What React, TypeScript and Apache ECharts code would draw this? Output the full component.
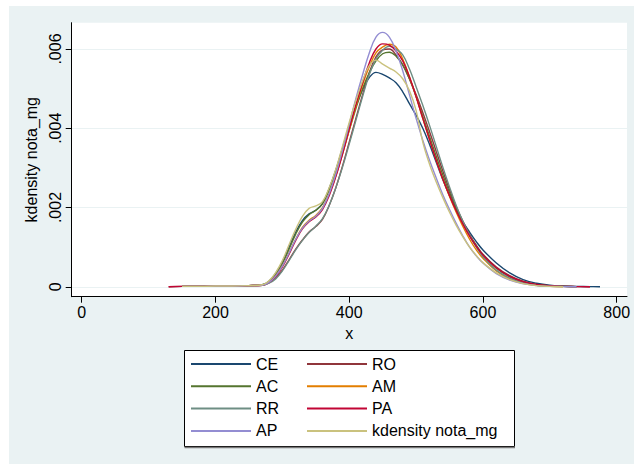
import React, { useEffect, useRef } from "react";
import * as echarts from "echarts";

// x grid (score) shared by all curves
const xs = [130, 150, 175, 200, 225, 250, 270, 280, 290, 300, 310, 320, 330, 340, 350, 360, 370, 380, 390, 400, 410, 420, 430, 440, 450, 460, 470, 480, 490, 500, 510, 520, 530, 540, 550, 560, 570, 580, 590, 600, 620, 640, 660, 680, 700, 720, 740, 760, 775];

// density values in thousandths (x 1e-3)
const CE = [null, 0.01, 0.01, 0.02, 0.02, 0.03, 0.05, 0.14, 0.34, 0.62, 1.0, 1.38, 1.67, 1.84, 1.93, 2.1, 2.48, 2.95, 3.5, 4.05, 4.55, 4.98, 5.28, 5.41, 5.36, 5.27, 5.15, 4.92, 4.62, 4.33, 4.0, 3.6, 3.15, 2.7, 2.3, 1.95, 1.64, 1.38, 1.14, 0.93, 0.6, 0.35, 0.18, 0.09, 0.04, 0.02, 0.01, 0.005, 0.0];
const RO = [0.0, 0.01, 0.01, 0.02, 0.02, 0.03, 0.04, 0.1, 0.22, 0.42, 0.68, 0.95, 1.18, 1.38, 1.52, 1.7, 2.05, 2.5, 3.05, 3.65, 4.25, 4.85, 5.4, 5.8, 5.98, 6.0, 5.85, 5.6, 5.25, 4.85, 4.4, 3.92, 3.42, 2.92, 2.45, 2.02, 1.65, 1.32, 1.05, 0.82, 0.5, 0.28, 0.14, 0.06, 0.03, 0.01, 0.005, 0.0, null];
const AC = [null, 0.01, 0.01, 0.02, 0.02, 0.03, 0.05, 0.13, 0.31, 0.58, 0.95, 1.33, 1.63, 1.82, 1.93, 2.1, 2.45, 2.9, 3.4, 3.95, 4.5, 5.0, 5.4, 5.7, 5.88, 5.92, 5.82, 5.6, 5.25, 4.8, 4.3, 3.8, 3.3, 2.82, 2.38, 1.98, 1.62, 1.3, 1.03, 0.8, 0.47, 0.25, 0.12, 0.05, 0.02, 0.01, 0.0, null, null];
const AM = [null, 0.01, 0.01, 0.02, 0.02, 0.03, 0.04, 0.11, 0.27, 0.52, 0.85, 1.2, 1.5, 1.68, 1.8, 2.0, 2.35, 2.8, 3.35, 3.95, 4.55, 5.1, 5.55, 5.9, 6.05, 6.12, 6.05, 5.75, 5.3, 4.8, 4.25, 3.72, 3.2, 2.72, 2.28, 1.88, 1.52, 1.2, 0.93, 0.72, 0.4, 0.2, 0.09, 0.04, 0.015, 0.0, null, null, null];
const RR = [null, 0.01, 0.01, 0.02, 0.02, 0.03, 0.04, 0.09, 0.2, 0.4, 0.66, 0.93, 1.17, 1.37, 1.53, 1.72, 2.05, 2.5, 3.02, 3.6, 4.2, 4.8, 5.35, 5.75, 5.97, 6.07, 6.0, 5.85, 5.5, 5.05, 4.58, 4.08, 3.55, 3.02, 2.52, 2.05, 1.65, 1.3, 1.0, 0.76, 0.42, 0.22, 0.1, 0.04, 0.02, 0.01, 0.0, null, null];
const PA = [0.0, 0.01, 0.01, 0.02, 0.02, 0.03, 0.04, 0.11, 0.26, 0.5, 0.82, 1.17, 1.46, 1.64, 1.76, 1.95, 2.3, 2.78, 3.35, 3.98, 4.6, 5.15, 5.65, 6.0, 6.13, 6.1, 5.95, 5.7, 5.3, 4.8, 4.25, 3.72, 3.2, 2.72, 2.3, 1.92, 1.58, 1.28, 1.02, 0.8, 0.48, 0.26, 0.13, 0.06, 0.03, 0.01, 0.005, 0.0, null];
const AP = [null, 0.01, 0.01, 0.02, 0.02, 0.03, 0.04, 0.11, 0.27, 0.52, 0.85, 1.2, 1.48, 1.66, 1.78, 1.98, 2.35, 2.85, 3.45, 4.1, 4.75, 5.35, 5.9, 6.3, 6.42, 6.3, 5.95, 5.45, 4.85, 4.25, 3.7, 3.2, 2.75, 2.32, 1.95, 1.6, 1.28, 1.0, 0.78, 0.6, 0.33, 0.17, 0.08, 0.03, 0.01, 0.005, 0.0, null, null];
const MG = [null, 0.01, 0.01, 0.02, 0.02, 0.03, 0.05, 0.15, 0.36, 0.66, 1.06, 1.45, 1.78, 1.98, 2.04, 2.15, 2.5, 2.97, 3.55, 4.15, 4.7, 5.2, 5.58, 5.72, 5.62, 5.52, 5.42, 5.25, 4.95, 4.45, 3.65, 3.1, 2.65, 2.25, 1.88, 1.55, 1.26, 1.0, 0.79, 0.61, 0.35, 0.18, 0.08, 0.03, 0.01, 0.0, null, null, null];

const seriesNames = ["CE", "RO", "AC", "AM", "RR", "PA", "AP", "kdensity nota_mg"];
const seriesValues = [CE, RO, AC, AM, RR, PA, AP, MG];
const seriesColors = ["#1a476f", "#90353b", "#55752f", "#e37e00", "#6e8e84", "#c10534", "#938dd2", "#cac27e"];

const xTicks = [0, 200, 400, 600, 800];
const yTicks = [0, 2, 4, 6];

const FONT = "Liberation Sans, Arial, Helvetica, sans-serif";

export default function App() {
  const ref = useRef<HTMLDivElement>(null);

  useEffect(() => {
    if (!ref.current) return;
    const chart = echarts.init(ref.current, undefined, { renderer: "svg" });
    const series = seriesNames.map((name, k) => ({
      name,
      type: "line",
      data: xs.map((x, i) => [x, seriesValues[k][i]]).filter((p) => p[1] !== null),
      showSymbol: false,
      symbol: "none",
      smooth: 0.4,
      lineStyle: { color: seriesColors[k], width: 1.4 },
      itemStyle: { color: seriesColors[k] },
    }));
    const legendCommon = {
      orient: "vertical",
      top: 350,
      padding: 0,
      itemWidth: 60,
      itemHeight: 2,
      itemGap: 6.3,
      itemTextGap: 9,
      icon: "rect",
      selectedMode: false,
      textStyle: { fontFamily: FONT, fontSize: 16, color: "#000", lineHeight: 16 },
    };
    chart.setOption({
      animation: false,
      backgroundColor: "transparent",
      textStyle: { fontFamily: FONT },
      grid: {
        left: 62.7,
        top: 16.7,
        right: 7,
        bottom: 167.3,
        show: true,
        backgroundColor: "#ffffff",
        borderWidth: 0,
      },
      xAxis: {
        type: "value",
        min: -15,
        max: 815.4,
        name: "x",
        nameLocation: "middle",
        nameGap: 25,
        nameTextStyle: { fontFamily: FONT, fontSize: 16, color: "#000" },
        axisLine: { show: true, onZero: false, lineStyle: { color: "#000", width: 1 } },
        axisTick: { show: true, length: 6, customValues: xTicks, lineStyle: { color: "#000" } },
        axisLabel: { customValues: xTicks, fontFamily: FONT, fontSize: 16, color: "#000", margin: 8 },
        splitLine: { show: false },
      },
      yAxis: {
        type: "value",
        min: -0.25,
        max: 6.664,
        name: "kdensity nota_mg",
        nameLocation: "middle",
        nameRotate: 90,
        nameGap: 30,
        nameTextStyle: { fontFamily: FONT, fontSize: 16, color: "#000" },
        axisLine: { show: true, onZero: false, lineStyle: { color: "#000", width: 1 } },
        axisTick: { show: true, length: 6, customValues: yTicks, lineStyle: { color: "#000" } },
        axisLabel: {
          customValues: yTicks,
          rotate: 90,
          fontFamily: FONT,
          fontSize: 16,
          color: "#000",
          margin: 8,
          formatter: (v: number) => (v === 0 ? "0" : ".00" + v),
        },
        splitLine: { show: true, lineStyle: { color: "#eaf2f3", width: 1.2 } },
      },
      legend: [
        { ...legendCommon, left: 182, data: ["CE", "AC", "RR", "AP"] },
        { ...legendCommon, left: 298, data: ["RO", "AM", "PA", "kdensity nota_mg"] },
      ],
      graphic: [
        {
          type: "rect",
          z: -1,
          shape: { x: 175.5, y: 344.5, width: 330, height: 96 },
          style: { fill: "#ffffff", stroke: "#000", lineWidth: 1 },
        },
        {
          type: "line",
          z: -1,
          shape: { x1: 175.5, y1: 441.5, x2: 506, y2: 441.5 },
          style: { stroke: "#777", lineWidth: 1.5 },
        },
      ],
      series,
    });
    return () => chart.dispose();
  }, []);

  return (
    <div style={{ position: "fixed", left: 0, top: 0, width: 634, height: 464, background: "#ffffff" }}>
      <div
        ref={ref}
        style={{ position: "absolute", left: 9, top: 6, width: 625, height: 458, background: "#eaf2f3" }}
      />
    </div>
  );
}
